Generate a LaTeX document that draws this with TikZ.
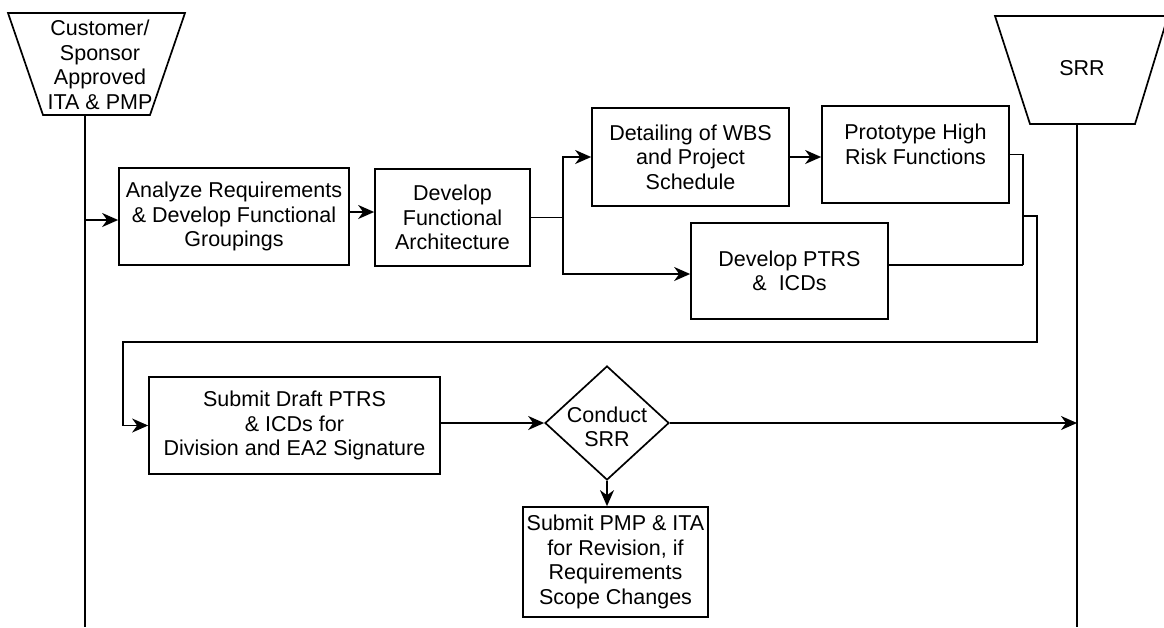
\documentclass[tikz,border=0pt]{standalone}
\usepackage{fontspec}
\setmainfont{Liberation Sans}
\usetikzlibrary{shapes.geometric,arrows.meta,calc}

\begin{document}
\begin{tikzpicture}[x=1pt,y=-1pt,
  line width=1.7pt,
  every node/.style={font=\fontsize{21.5}{24.5}\selectfont},
  procbox/.style n args={2}{draw, line width=1.7pt, align=center, inner sep=0pt,
    minimum width=#1, minimum height=#2},
  lbl/.style={align=center, inner sep=0pt},
  arr/.style={-{Stealth[length=16pt,width=14pt,inset=5pt]}},
]
\clip (0,0) rectangle (1164,627);
\fill[white] (0,0) rectangle (1164,627);

% start and end milestones
\draw (8,13) -- (185,13) -- (150,115) -- (43,115) -- cycle;
\node[lbl] (start) at (100,65) {Customer/\\Sponsor\\Approved\\ITA \& PMP};
\draw (995,16) -- (1168,16) -- (1135,124) -- (1030,124) -- cycle;
\node[lbl] (srr) at (1082,68) {SRR};

% time lines below the milestones
\coordinate (ltop) at (85,115);
\coordinate (lend) at (85,627);
\coordinate (rtop) at (1077,124);
\coordinate (rend) at (1077,627);
\draw (ltop) -- (lend);
\draw (rtop) -- (rend);

% process steps
\node[procbox={230pt}{97pt}] (A) at (234,216.5) {Analyze Requirements\\\& Develop Functional\\Groupings};
\node[procbox={155pt}{97pt}] (B) at (452.5,217.5) {Develop\\Functional\\Architecture};
\node[procbox={197pt}{98pt}] (C) at (690.5,157) {Detailing of WBS\\and Project\\Schedule};
\node[procbox={187pt}{97pt}] (D) at (915.5,154.5) {Prototype High\\Risk Functions\\[-4pt]};
\node[procbox={197pt}{96pt}] (E) at (789.5,271) {Develop PTRS\\\&\ \ ICDs};
\node[procbox={291pt}{97pt}] (F) at (294.5,425.5) {Submit Draft PTRS\\\& ICDs for\\Division and EA2 Signature};
\node[diamond, draw, line width=1.7pt, inner sep=0pt, minimum width=124pt, minimum height=114pt] (H) at (607,423) {};
\node[lbl] (Htext) at (607,427) {Conduct\\SRR};
\node[procbox={185pt}{110pt}] (G) at (615.5,562) {Submit PMP \& ITA\\for Revision, if\\Requirements\\Scope Changes};

% flow
\coordinate (ja) at (85,220);
\draw[arr] (ja) -- (ja -| A.west);
\draw[arr] ([yshift=4.5pt]A.east) -- ([yshift=4.5pt]A.east -| B.west);

\coordinate (S) at (563,217.5);
\draw (B.east) -- (S);
\draw[arr] (S) |- (C.west);
\draw[arr] (S) |- ([yshift=-3pt]E.west);
\draw[arr] (C.east) -- (C.east -| D.west);

\coordinate (J1) at (1023,265);
\coordinate (J2) at (1023,216);
\coordinate (J3) at (1037,342);
\coordinate (J4) at (123,342);
\draw (D.east) -| (J1);
\draw ([yshift=6pt]E.east) -- (J1);
\draw (J1) -- (J2);
\draw[arr] (J2) -| (J3) -- (J4) |- (F.west);

\draw[arr] ([yshift=2.5pt]F.east) -- (H.west);
\draw[arr] (H.east) -- (H.east -| rtop);
\draw[arr] (H.south) -- (H.south |- G.north);
\end{tikzpicture}
\end{document}
